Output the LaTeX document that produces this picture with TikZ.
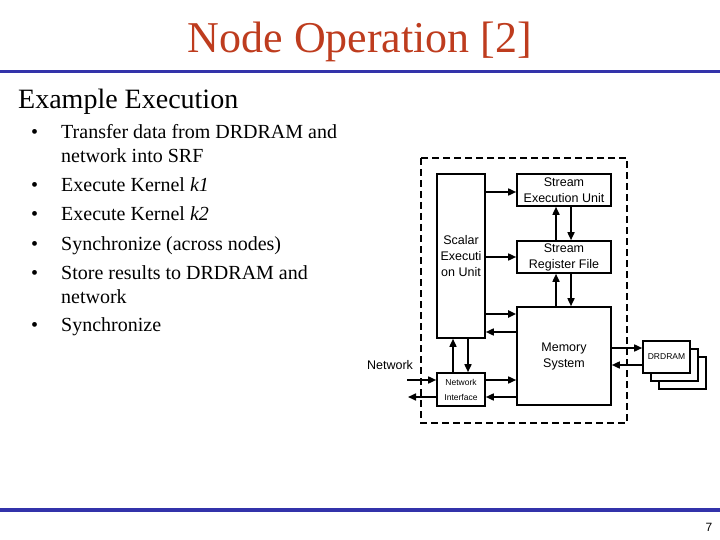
\documentclass[tikz,border=0pt]{standalone}
\usepackage{fontspec}
\setmainfont{Liberation Serif}
\newfontfamily\diagfont{Liberation Sans}
\usetikzlibrary{arrows.meta}
\definecolor{titlered}{RGB}{190,60,30}
\definecolor{ruleblue}{RGB}{51,51,170}
\tikzset{
  blk/.style={draw=black, line width=1.6pt, fill=white, inner sep=0pt, align=center, font=\diagfont\fontsize{12.5}{16}\selectfont},
  arr/.style={line width=1.6pt, -{Triangle[length=8pt,width=7pt]}},
  bul/.style={anchor=base west, inner sep=0pt, font=\fontsize{20}{24}\selectfont},
}
\begin{document}
\begin{tikzpicture}[x=1pt,y=-1pt]
\useasboundingbox (0,0) rectangle (720,540);
% title and rules
\node[anchor=base, inner sep=0pt, text=titlered, font=\fontsize{44}{50}\selectfont] (title) at (360,53) {Node Operation [2]};
\fill[ruleblue] (0,70) rectangle (720,73.5);
\fill[ruleblue] (0,508) rectangle (720,511.5);
\node[anchor=base west, inner sep=0pt, font=\fontsize{28}{32}\selectfont] (sub) at (18,109) {Example Execution};
% bullets
\foreach \y in {139,192,221,250,279,331} \node[bul] at (31,\y) {•};
\node[bul] (t1) at (61,139) {Transfer data from DRDRAM and};
\node[bul] (t1b) at (61,163) {network into SRF};
\node[bul] (t2) at (61,192) {Execute Kernel \textit{k1}};
\node[bul] (t3) at (61,221) {Execute Kernel \textit{k2}};
\node[bul] (t4) at (61,250) {Synchronize (across nodes)};
\node[bul] (t5) at (61,279) {Store results to DRDRAM and};
\node[bul] (t5b) at (61,303) {network};
\node[bul] (t6) at (61,331) {Synchronize};
\node[anchor=base, inner sep=0pt, font=\diagfont\fontsize{12}{14}\selectfont] (pg) at (709,531) {7};
% diagram
\draw[line width=1.4pt, dash pattern=on 7pt off 4pt] (421,158) rectangle (627,423);
\node[blk, minimum width=48pt, minimum height=164pt] (seu) at (461,256) {Scalar\\Executi\\on Unit};
\node[blk, minimum width=94pt, minimum height=32pt] (stu) at (564,190) {Stream\\Execution Unit};
\node[blk, minimum width=94pt, minimum height=32pt] (srf) at (564,257) {Stream\\Register File};
\node[blk, minimum width=94pt, minimum height=98pt] (mem) at (564,356) {Memory\\System};
\node[blk, minimum width=48pt, minimum height=33pt, font=\diagfont\fontsize{8.5}{15}\selectfont] (ni) at (461,389.5) {Network\\Interface};
\node[blk, minimum width=47pt, minimum height=32pt] (d3) at (682.5,373) {};
\node[blk, minimum width=47pt, minimum height=32pt] (d2) at (674.5,365) {};
\node[blk, minimum width=47pt, minimum height=32pt, font=\diagfont\fontsize{8.5}{10}\selectfont] (dr) at (666.5,357) {DRDRAM};
\node[inner sep=0pt, font=\diagfont\fontsize{12.5}{14}\selectfont] (netlbl) at (390,365) {Network};
\coordinate (netin) at (407,380);
\coordinate (netout) at (408,397);
% connectors
\draw[arr] (seu.east |- 0,192) -- (stu.west |- 0,192);
\draw[arr] (seu.east |- 0,257) -- (srf.west |- 0,257);
\draw[arr, line width=2.2pt] (seu.east |- 0,314) -- (mem.west |- 0,314);
\draw[arr] (mem.west |- 0,332) -- (seu.east |- 0,332);
\draw[arr] (srf.north -| 556,0) -- (stu.south -| 556,0);
\draw[arr] (stu.south -| 571,0) -- (srf.north -| 571,0);
\draw[arr] (mem.north -| 556,0) -- (srf.south -| 556,0);
\draw[arr] (srf.south -| 571,0) -- (mem.north -| 571,0);
\draw[arr] (ni.north -| 453,0) -- (seu.south -| 453,0);
\draw[arr] (seu.south -| 468,0) -- (ni.north -| 468,0);
\draw[arr] (ni.east |- 0,380) -- (mem.west |- 0,380);
\draw[arr] (mem.west |- 0,397) -- (ni.east |- 0,397);
\draw[arr] (netin) -- (ni.west |- netin);
\draw[arr] (ni.west |- netout) -- (netout);
\draw[arr] (mem.east |- 0,348) -- (dr.west |- 0,348);
\draw[arr] (dr.west |- 0,365) -- (mem.east |- 0,365);
\end{tikzpicture}
\end{document}
